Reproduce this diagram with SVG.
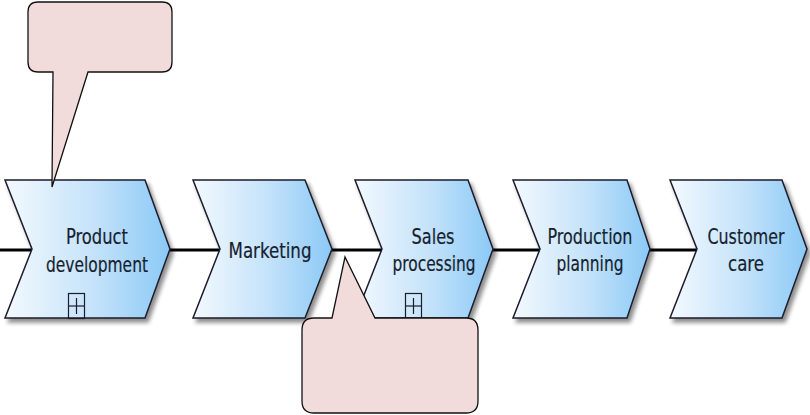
<svg xmlns="http://www.w3.org/2000/svg" width="810" height="415" viewBox="0 0 810 415">
  <defs>
    <linearGradient id="fillGrad" x1="0" y1="0" x2="1" y2="0">
      <stop offset="0" stop-color="#f3f9fe"/>
      <stop offset="0.55" stop-color="#c3e2fa"/>
      <stop offset="1" stop-color="#8bc9f6"/>
    </linearGradient>
    <filter id="shadow" x="-10%" y="-10%" width="125%" height="130%">
      <feGaussianBlur in="SourceAlpha" stdDeviation="2"/>
      <feOffset dx="3" dy="4" result="blur"/>
      <feComponentTransfer><feFuncA type="linear" slope="0.45"/></feComponentTransfer>
      <feMerge><feMergeNode/><feMergeNode in="SourceGraphic"/></feMerge>
    </filter>
  </defs>
  <style>
    .chev { fill: url(#fillGrad); stroke: #1c1c2a; stroke-width: 1.5; stroke-linejoin: miter; filter: url(#shadow); }
    .lbl { font-family: 'DejaVu Sans Condensed', 'DejaVu Sans', sans-serif; font-stretch: condensed; font-size: 22px; fill: #161e30; stroke: #161e30; stroke-width: 0.2; text-anchor: middle; }
    .conn { stroke: #000; stroke-width: 3; fill: none; }
    .plus { fill: none; stroke: #1c1c2a; stroke-width: 1.2; }
    .callout { fill: #f2dcdb; stroke: #111; stroke-width: 1.3; stroke-linejoin: miter; }
  </style>

  <g id="connectors">
    <line class="conn" x1="0" y1="250" x2="32" y2="250"/>
    <line class="conn" x1="170" y1="250" x2="220" y2="250"/>
    <line class="conn" x1="332" y1="250" x2="382" y2="250"/>
    <line class="conn" x1="493" y1="250" x2="540" y2="250"/>
    <line class="conn" x1="650" y1="250" x2="697" y2="250"/>
  </g>

  <g id="product-development">
    <polygon class="chev" points="5,180 145,180 170,249 145,318 5,318 32,249"/>
    <text class="lbl" x="97" y="244" textLength="62" lengthAdjust="spacingAndGlyphs">Product</text>
    <text class="lbl" x="97" y="272" textLength="102" lengthAdjust="spacingAndGlyphs">development</text>
    <rect class="plus" x="68.5" y="293.5" width="16" height="25"/>
    <line class="plus" x1="76.5" y1="298" x2="76.5" y2="314"/>
    <line class="plus" x1="69" y1="306" x2="84" y2="306"/>
  </g>

  <g id="marketing">
    <polygon class="chev" points="193,180 305,180 332,249 305,318 193,318 220,249"/>
    <text class="lbl" x="270" y="258" textLength="83" lengthAdjust="spacingAndGlyphs">Marketing</text>
  </g>

  <g id="sales-processing">
    <polygon class="chev" points="355,180 468,180 493,249 468,318 355,318 382,249"/>
    <text class="lbl" x="433" y="244" textLength="43" lengthAdjust="spacingAndGlyphs">Sales</text>
    <text class="lbl" x="434" y="271" textLength="83" lengthAdjust="spacingAndGlyphs">processing</text>
    <rect class="plus" x="405.5" y="293.5" width="16" height="25"/>
    <line class="plus" x1="413.5" y1="298" x2="413.5" y2="314"/>
    <line class="plus" x1="406" y1="306" x2="421" y2="306"/>
  </g>

  <g id="production-planning">
    <polygon class="chev" points="513,180 627,180 650,249 627,318 513,318 540,249"/>
    <text class="lbl" x="590" y="244" textLength="85" lengthAdjust="spacingAndGlyphs">Production</text>
    <text class="lbl" x="590" y="271" textLength="67" lengthAdjust="spacingAndGlyphs">planning</text>
  </g>

  <g id="customer-care">
    <polygon class="chev" points="670,180 782,180 807,249 782,318 670,318 697,249"/>
    <text class="lbl" x="746" y="244" textLength="77" lengthAdjust="spacingAndGlyphs">Customer</text>
    <text class="lbl" x="746" y="271" textLength="36" lengthAdjust="spacingAndGlyphs">care</text>
  </g>

  <g id="callout-1">
    <path class="callout" d="M 38,2 H 162 Q 172,2 172,12 V 62 Q 172,72 162,72 H 88 L 52,187 L 53,72 H 38 Q 28,72 28,62 V 12 Q 28,2 38,2 Z"/>
  </g>

  <g id="callout-2">
    <path class="callout" d="M 314,318 H 332 L 345,257 L 375,318 H 466 Q 478,318 478,330 V 401 Q 478,413 466,413 H 314 Q 302,413 302,401 V 330 Q 302,318 314,318 Z"/>
  </g>
</svg>
